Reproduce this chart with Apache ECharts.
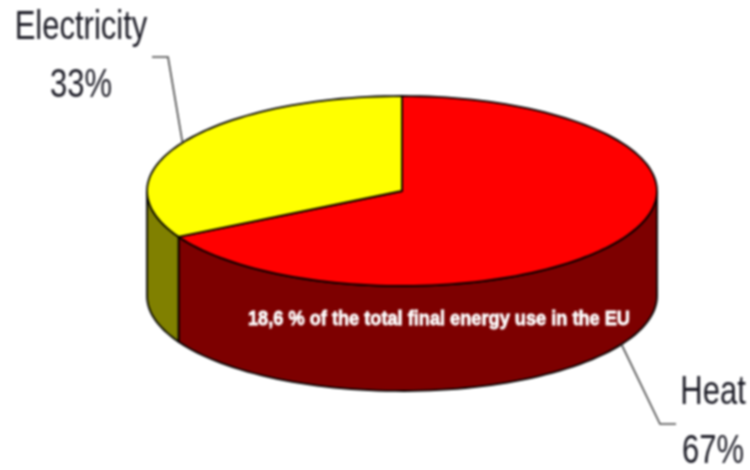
<!DOCTYPE html>
<html>
<head>
<meta charset="utf-8">
<style>
html,body{margin:0;padding:0;background:#fff}
#chart{width:750px;height:470px;filter:blur(0.8px)}
</style>
<script src="https://cdn.jsdelivr.net/npm/echarts@6/dist/echarts.min.js"></script>
</head>
<body>
<div id="chart"></div>
<script>
var categories = ['Heat', 'Electricity'];
var shares = [67, 33];
var topColors = ['#ff0000', '#ffff00'];
var sideColors = ['#7d0000', '#808000'];
var note = '18,6 % of the total final energy use in the EU';

var CX = 402, CY = 191, RX = 255, RY = 95, DEPTH = 105;
var total = shares.reduce(function (a, b) { return a + b; }, 0);
var FONT = '31px "Liberation Sans", Arial, sans-serif';
var INK = '#1c1c26';

function pt(deg, dy) {
  var r = deg * Math.PI / 180;
  return [CX + RX * Math.sin(r), CY - RY * Math.cos(r) + (dy || 0)];
}
function arc(a, b, dy) {
  var out = [], n = Math.max(2, Math.ceil(Math.abs(b - a) / 2));
  for (var i = 0; i <= n; i++) out.push(pt(a + (b - a) * i / n, dy));
  return out;
}
var labelLayout = [
  { elbow: [660, 424], end: [676, 424], tx: 713, ty: [393, 452], drop: true },
  { elbow: [168, 57], end: [152, 57], tx: 81, ty: [28, 86], drop: false }
];
function label(text, x, y) {
  return {
    type: 'text', z2: 4, x: x, y: y, scaleY: 1.34,
    style: { text: text, x: 0, y: 0, align: 'center', verticalAlign: 'middle', font: FONT, fill: INK }
  };
}

function renderSlice(params, api) {
  var i = params.dataIndex;
  var before = 0;
  for (var k = 0; k < i; k++) before += shares[k];
  var start = before / total * 360;
  var end = (before + api.value(1)) / total * 360;
  var mid = (start + end) / 2;
  var children = [];
  var sa = Math.max(start, 90), sb = Math.min(end, 270);
  if (sb > sa) {
    children.push({
      type: 'polygon',
      z2: 1,
      shape: { points: arc(sa, sb, 0).concat(arc(sb, sa, DEPTH)) },
      style: { fill: sideColors[i], stroke: '#000', lineWidth: 1.8 }
    });
  }
  children.push({
    type: 'polygon',
    z2: 2,
    shape: { points: [[CX, CY]].concat(arc(start, end, 0)) },
    style: { fill: topColors[i], stroke: '#000', lineWidth: 1.8 }
  });
  var L = labelLayout[i];
  children.push({
    type: 'polyline',
    z2: 3,
    shape: { points: [pt(mid, L.drop ? DEPTH : 0), L.elbow, L.end] },
    style: { fill: null, stroke: '#444', lineWidth: 1.6 }
  });
  children.push(label(categories[i], L.tx, L.ty[0]));
  children.push(label(api.value(1) + '%', L.tx, L.ty[1]));
  return { type: 'group', children: children };
}

var chart = echarts.init(document.getElementById('chart'));
chart.setOption({
  animation: false,
  backgroundColor: '#fff',
  graphic: [{
    type: 'text', z: 50, x: 439, y: 319, scaleY: 1.15,
    style: { text: note, x: 0, y: 0, align: 'center', verticalAlign: 'middle',
      font: 'bold 18.2px "Liberation Sans", Arial, sans-serif', fill: '#fff',
      stroke: '#fff', lineWidth: 0.7 }
  }],
  series: [{
    type: 'custom',
    coordinateSystem: 'none',
    renderItem: renderSlice,
    data: shares.map(function (v, i) { return { name: categories[i], value: [i, v] }; })
  }]
});
</script>
</body>
</html>
